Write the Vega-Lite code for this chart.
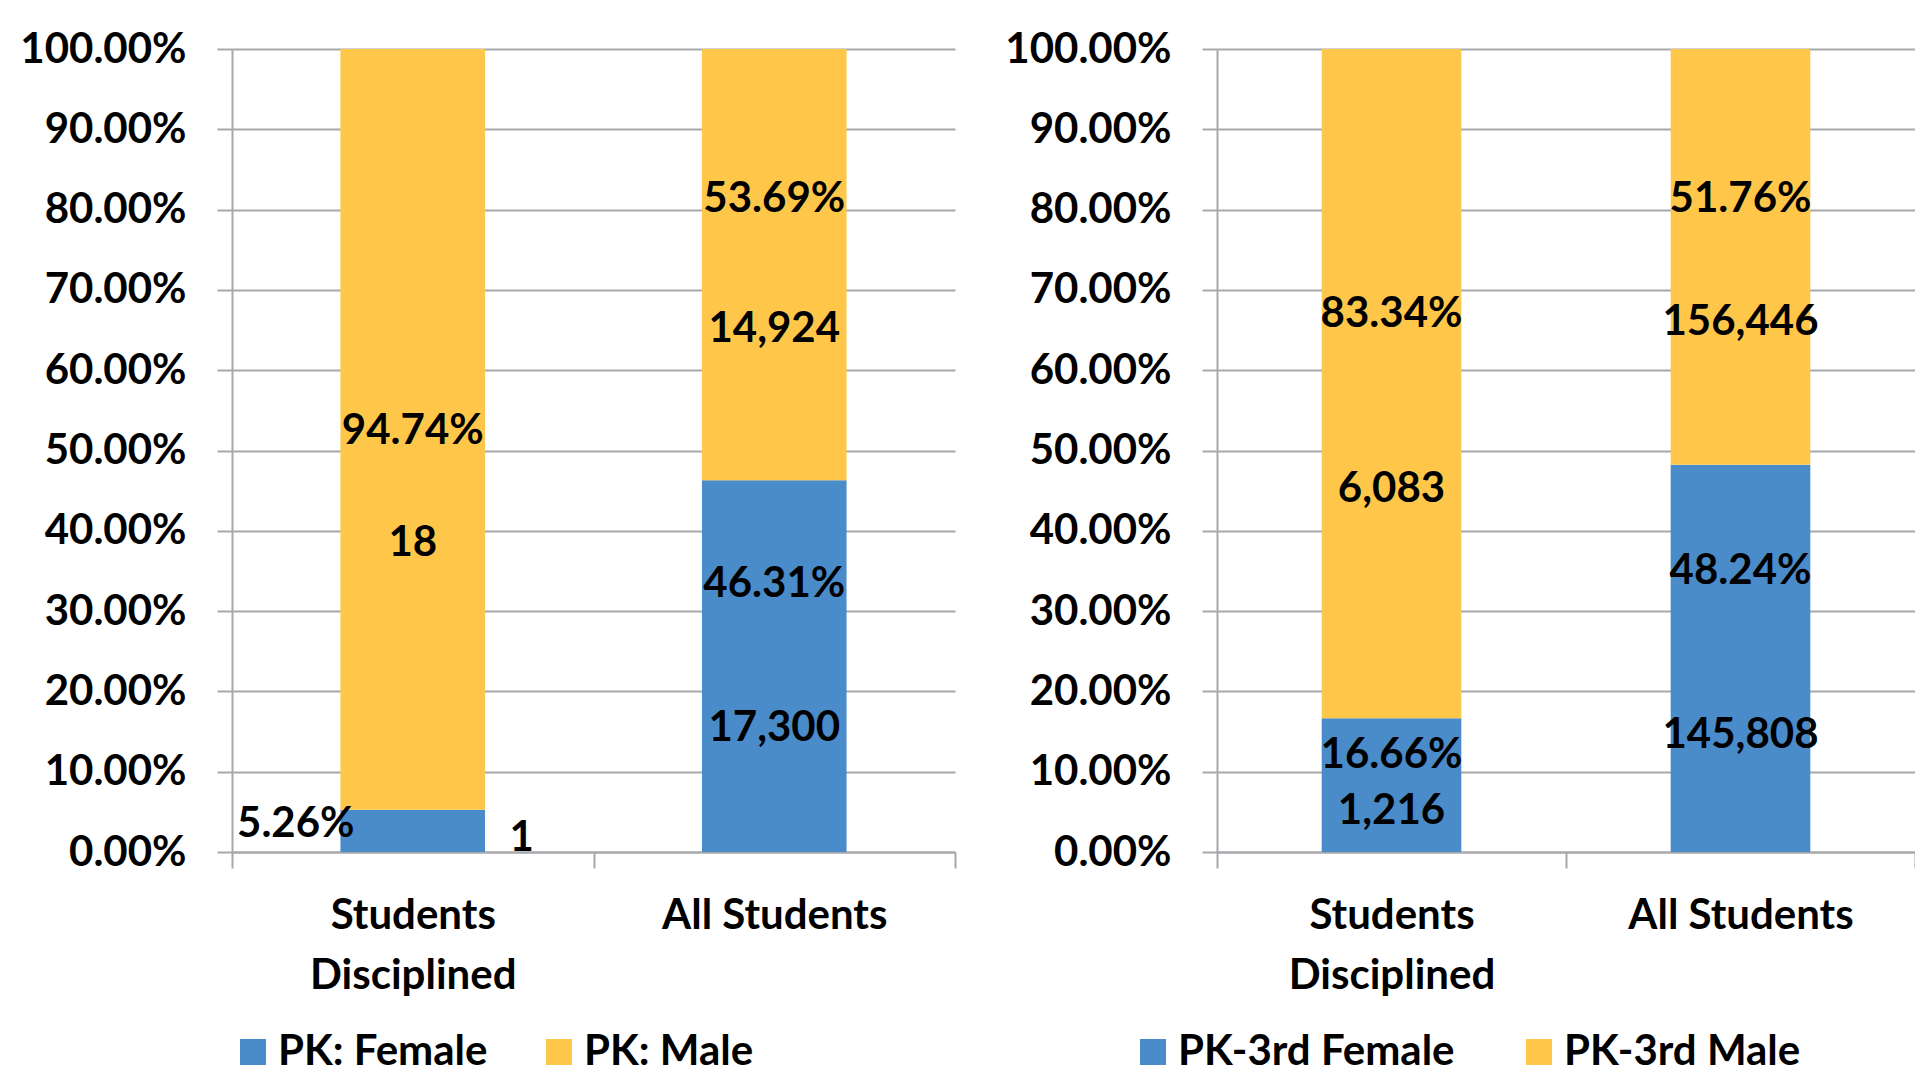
{
  "$schema": "https://vega.github.io/schema/vega-lite/v6.json",
  "autosize": {"type": "pad"},
  "padding": {"left": 18, "top": 28, "right": 0, "bottom": 0},
  "background": "white",
  "spacing": 47,
  "resolve": {"scale": {"color": "independent"}, "legend": {"color": "independent"}},
  "config": {
    "view": {"stroke": null},
    "font": "Lato",
    "axis": {
      "labelFont": "Lato", "labelFontWeight": "bold", "labelFontSize": 42, "labelColor": "black", "labelLimit": 0,
      "domainColor": "#A6A8AC", "domainWidth": 2, "tickColor": "#A6A8AC", "tickWidth": 2,
      "gridColor": "#A6A8AC", "gridWidth": 2, "title": null
    },
    "legend": {
      "labelFont": "Lato", "labelFontWeight": "bold", "labelFontSize": 42, "labelColor": "black", "labelLimit": 0
    },
    "text": {"font": "Lato", "fontWeight": "bold", "fontSize": 42, "color": "black"}
  },
  "datasets": {
    "pk": [
      {"group": "Students Disciplined", "gender": "PK: Female", "pct": 0.0526, "count": 1},
      {"group": "Students Disciplined", "gender": "PK: Male", "pct": 0.9474, "count": 18},
      {"group": "All Students", "gender": "PK: Female", "pct": 0.4631, "count": 17300},
      {"group": "All Students", "gender": "PK: Male", "pct": 0.5369, "count": 14924}
    ],
    "pk3": [
      {"group": "Students Disciplined", "gender": "PK-3rd Female", "pct": 0.1666, "count": 1216},
      {"group": "Students Disciplined", "gender": "PK-3rd Male", "pct": 0.8334, "count": 6083},
      {"group": "All Students", "gender": "PK-3rd Female", "pct": 0.4824, "count": 145808},
      {"group": "All Students", "gender": "PK-3rd Male", "pct": 0.5176, "count": 156446}
    ]
  },
  "hconcat": [
    {
      "width": 723,
      "height": 803,
      "data": {"name": "pk"},
      "encoding": {
        "x": {
          "field": "group", "type": "nominal",
          "sort": ["Students Disciplined", "All Students"],
          "scale": {"paddingInner": 0, "paddingOuter": 0},
          "axis": {
            "tickBand": "extent", "tickSize": 16, "labelAngle": 0, "labelPadding": 27,
            "labelLineHeight": 60, "grid": false,
            "labelExpr": "datum.label == 'Students Disciplined' ? ['Students', 'Disciplined'] : datum.label"
          }
        }
      },
      "layer": [
        {
          "mark": {"type": "bar", "width": {"band": 0.4}},
          "encoding": {
            "y": {
              "field": "pct", "type": "quantitative", "stack": "zero",
              "scale": {"domain": [0, 1], "nice": false},
              "axis": {
                "values": [0, 0.1, 0.2, 0.3, 0.4, 0.5, 0.6, 0.7, 0.8, 0.9, 1],
                "format": ".2%", "grid": true, "tickSize": 15, "labelPadding": 31,
                "minExtent": 214, "maxExtent": 214
              }
            },
            "color": {
              "field": "gender", "type": "nominal",
              "scale": {"domain": ["PK: Female", "PK: Male"], "range": ["#4A8BC9", "#FFC74A"]},
              "legend": {
                "title": null, "orient": "none", "direction": "horizontal",
                "legendX": 0, "legendY": 982, "symbolType": "square", "symbolSize": 676,
                "symbolStrokeWidth": 0, "labelOffset": 4, "columnPadding": 50, "padding": 0
              }
            },
            "order": {"field": "gender"}
          }
        },
        {
          "transform": [{"filter": {"field": "gender", "equal": "PK: Female"}}],
          "mark": {"type": "text"},
          "encoding": {
            "y": {"field": "pct", "type": "quantitative", "stack": null, "scale": {"domain": [0, 1.386], "nice": false, "zero": true}, "axis": null},
            "text": {"field": "pct", "type": "quantitative", "format": ".2%", "condition": {"test": "datum.pct < 0.1", "value": ""}}
          }
        },
        {
          "transform": [{"filter": {"field": "gender", "equal": "PK: Female"}}],
          "mark": {"type": "text", "dx": -117},
          "encoding": {
            "y": {"field": "pct", "type": "quantitative", "stack": null, "scale": {"domain": [0, 1.5], "nice": false, "zero": true}, "axis": null},
            "text": {"field": "pct", "type": "quantitative", "format": ".2%", "condition": {"test": "datum.pct >= 0.1", "value": ""}}
          }
        },
        {
          "transform": [{"filter": {"and": [{"field": "gender", "equal": "PK: Male"}, {"field": "group", "equal": "Students Disciplined"}]}}],
          "mark": {"type": "text"},
          "encoding": {
            "y": {"field": "pct", "type": "quantitative", "stack": null, "scale": {"domain": [0, 1.99], "reverse": true, "nice": false, "zero": true}, "axis": null},
            "text": {"field": "pct", "type": "quantitative", "format": ".2%"}
          }
        },
        {
          "transform": [{"filter": {"and": [{"field": "gender", "equal": "PK: Male"}, {"field": "group", "equal": "All Students"}]}}],
          "mark": {"type": "text"},
          "encoding": {
            "y": {"field": "pct", "type": "quantitative", "stack": null, "scale": {"domain": [0, 2.87], "reverse": true, "nice": false, "zero": true}, "axis": null},
            "text": {"field": "pct", "type": "quantitative", "format": ".2%"}
          }
        },
        {
          "transform": [{"filter": {"field": "gender", "equal": "PK: Female"}}],
          "mark": {"type": "text"},
          "encoding": {
            "y": {"field": "pct", "type": "quantitative", "stack": null, "scale": {"domain": [0, 3.0], "nice": false, "zero": true}, "axis": null},
            "text": {"field": "count", "type": "quantitative", "format": ",", "condition": {"test": "datum.pct < 0.1", "value": ""}}
          }
        },
        {
          "transform": [{"filter": {"field": "gender", "equal": "PK: Female"}}],
          "mark": {"type": "text", "dx": 109},
          "encoding": {
            "y": {"field": "pct", "type": "quantitative", "stack": null, "scale": {"domain": [0, 3.125], "nice": false, "zero": true}, "axis": null},
            "text": {"field": "count", "type": "quantitative", "format": ",", "condition": {"test": "datum.pct >= 0.1", "value": ""}}
          }
        },
        {
          "transform": [{"filter": {"field": "gender", "equal": "PK: Male"}}],
          "mark": {"type": "text"},
          "encoding": {
            "y": {"field": "pct", "type": "quantitative", "stack": null, "scale": {"domain": [0, 1.5385], "reverse": true, "nice": false, "zero": true}, "axis": null},
            "text": {"field": "count", "type": "quantitative", "format": ","}
          }
        }
      ],
      "resolve": {"scale": {"y": "independent"}}
    },
    {
      "width": 698,
      "height": 803,
      "data": {"name": "pk3"},
      "encoding": {
        "x": {
          "field": "group", "type": "nominal",
          "sort": ["Students Disciplined", "All Students"],
          "scale": {"paddingInner": 0, "paddingOuter": 0},
          "axis": {
            "tickBand": "extent", "tickSize": 16, "labelAngle": 0, "labelPadding": 27,
            "labelLineHeight": 60, "grid": false,
            "labelExpr": "datum.label == 'Students Disciplined' ? ['Students', 'Disciplined'] : datum.label"
          }
        }
      },
      "layer": [
        {
          "mark": {"type": "bar", "width": {"band": 0.4}},
          "encoding": {
            "y": {
              "field": "pct", "type": "quantitative", "stack": "zero",
              "scale": {"domain": [0, 1], "nice": false},
              "axis": {
                "values": [0, 0.1, 0.2, 0.3, 0.4, 0.5, 0.6, 0.7, 0.8, 0.9, 1],
                "format": ".2%", "grid": true, "tickSize": 15, "labelPadding": 31,
                "minExtent": 214, "maxExtent": 214
              }
            },
            "color": {
              "field": "gender", "type": "nominal",
              "scale": {"domain": ["PK-3rd Female", "PK-3rd Male"], "range": ["#4A8BC9", "#FFC74A"]},
              "legend": {
                "title": null, "orient": "none", "direction": "horizontal",
                "legendX": -85, "legendY": 982, "symbolType": "square", "symbolSize": 676,
                "symbolStrokeWidth": 0, "labelOffset": 4, "columnPadding": 63, "padding": 0
              }
            },
            "order": {"field": "gender"}
          }
        },
        {
          "transform": [{"filter": {"field": "gender", "equal": "PK-3rd Female"}}],
          "mark": {"type": "text"},
          "encoding": {
            "y": {"field": "pct", "type": "quantitative", "stack": null, "scale": {"domain": [0, 1.38], "nice": false, "zero": true}, "axis": null},
            "text": {"field": "pct", "type": "quantitative", "format": ".2%"}
          }
        },
        {
          "transform": [{"filter": {"and": [{"field": "gender", "equal": "PK-3rd Male"}, {"field": "group", "equal": "Students Disciplined"}]}}],
          "mark": {"type": "text"},
          "encoding": {
            "y": {"field": "pct", "type": "quantitative", "stack": null, "scale": {"domain": [0, 2.525], "reverse": true, "nice": false, "zero": true}, "axis": null},
            "text": {"field": "pct", "type": "quantitative", "format": ".2%"}
          }
        },
        {
          "transform": [{"filter": {"and": [{"field": "gender", "equal": "PK-3rd Male"}, {"field": "group", "equal": "All Students"}]}}],
          "mark": {"type": "text"},
          "encoding": {
            "y": {"field": "pct", "type": "quantitative", "stack": null, "scale": {"domain": [0, 2.77], "reverse": true, "nice": false, "zero": true}, "axis": null},
            "text": {"field": "pct", "type": "quantitative", "format": ".2%"}
          }
        },
        {
          "transform": [{"filter": {"field": "gender", "equal": "PK-3rd Female"}}],
          "mark": {"type": "text"},
          "encoding": {
            "y": {"field": "pct", "type": "quantitative", "stack": null, "scale": {"domain": [0, 3.3], "nice": false, "zero": true}, "axis": null},
            "text": {"field": "count", "type": "quantitative", "format": ","}
          }
        },
        {
          "transform": [{"filter": {"field": "gender", "equal": "PK-3rd Male"}}],
          "mark": {"type": "text"},
          "encoding": {
            "y": {"field": "pct", "type": "quantitative", "stack": null, "scale": {"domain": [0, 1.52], "reverse": true, "nice": false, "zero": true}, "axis": null},
            "text": {"field": "count", "type": "quantitative", "format": ","}
          }
        }
      ],
      "resolve": {"scale": {"y": "independent"}}
    }
  ]
}
